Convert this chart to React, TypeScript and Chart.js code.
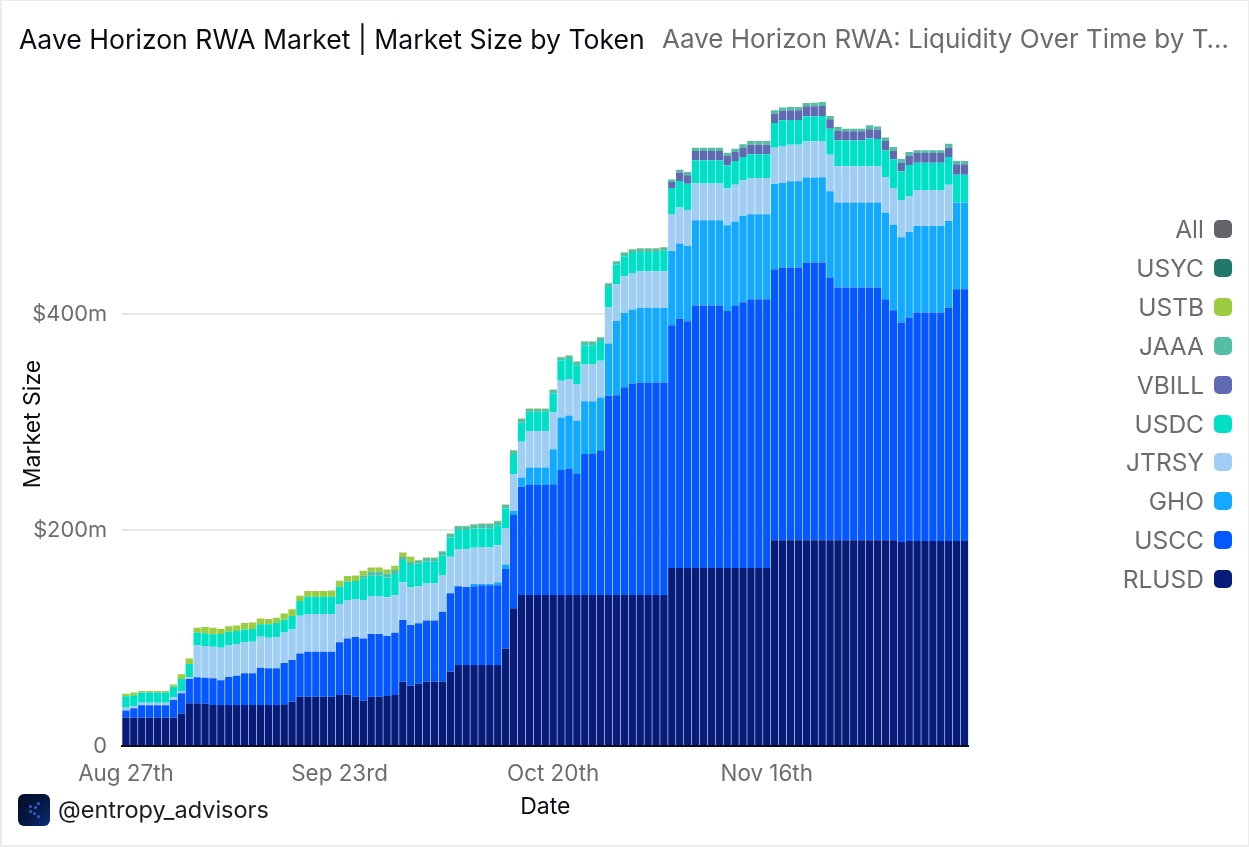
import React, { useEffect, useRef } from "react";
import { Chart, registerables } from "chart.js";

Chart.register(...registerables);

const tickLabels = ["Aug 27th", "Sep 23rd", "Oct 20th", "Nov 16th"];
const tickEvery = 27;
const barCount = 107;
const categories = Array.from({ length: barCount }, (_, i) => `day ${i}`);

const rlusd = [
  26.2,26.2,26.2,26.2,26.2,26.2,26.2,30,39.5,39.5,
  39.2,38,38,38,38,38,38,38,38,38,
  38.6,41,45.7,45.7,45.7,45.7,45.7,47.2,47.8,45.7,
  42,45.7,45.7,46.3,47.2,59.5,55.9,57.7,59.5,59.5,
  59.5,68.8,75,75,75,75,75,75,90.4,127.5,
  139.8,139.8,139.8,139.8,139.8,139.8,139.8,139.8,139.8,139.8,
  139.8,139.8,139.8,139.8,139.8,139.8,139.8,139.8,139.8,164.8,
  164.8,164.8,164.8,164.8,164.8,164.8,164.8,164.8,164.8,164.8,
  164.8,164.8,190.7,190.7,190.7,190.7,190.7,190.7,190.7,190.7,
  190.7,190.7,190.7,190.7,190.7,190.7,190.7,190.7,189,190,
  190,190,190,190,190,190,190,
];
const uscc = [
  6.8,8.8,11.5,11.5,11.5,11.5,16.4,18.8,22.5,24.1,
  24.1,24.7,23,26,27,29.3,29.3,34.5,34,34,
  38.4,38.6,40.1,41.6,41.6,41.6,41.6,48.8,51.9,55.3,
  57.7,58,58,55.6,57.7,57.2,56.1,55.9,56.8,56.8,
  64.9,72.6,73.1,72.2,72.9,74,74,74,73.5,86.4,
  100.3,101.9,101.9,101.9,102.8,115.8,117.3,112.1,130.6,130.6,
  134.2,184.6,185.2,192.6,196,196.9,196.9,196.9,196.9,225,
  231.2,228.7,243.2,243.2,243.2,243.2,238.2,242.9,246.2,249.1,
  249.1,249.1,251,252.5,252.5,252.5,257.2,257.2,257.2,243.3,
  234,234,234,234,234,234,223.2,213,203.3,206.9,
  211.6,211.6,211.6,211.6,216.2,233.1,233.1,
];
const gho = [
  0,0,0,0,0,0,0,0,0,0,
  0,0,0,0,0,0,0,0,0,0,
  0,0,0,0,0,0,0,0,0,0,
  0,0,0,0,0,0,0,0,0,0,
  0,0,0,0,2.1,1,1,2.6,4.3,4,
  8.7,16.3,16.3,16.3,32.4,48.7,49.1,49.3,49,49,
  48.9,48.5,68.8,68.8,68.5,69.2,69.2,69.2,69.2,68.8,
  69.5,69.8,79,79,79,79,79.4,78.3,80,78.7,
  78.7,78.7,79,78.7,79.9,79.9,78.7,78.7,79,79.9,
  78.7,78.7,78.7,78.7,78.7,78.7,80.2,79.3,79,79.3,
  80.2,80.2,80.2,80.2,80.2,80.3,80.3,
];
const jtrsy = [
  2.5,2,2.3,2.3,2.3,2.3,2.4,2.2,2,29.4,
  29.4,29.3,30,29.5,29.4,28.7,29.3,28.7,28.3,28.8,
  28.2,28.4,34.9,34.9,34.9,34.9,34.9,35.5,35.5,35.1,
  35.5,35.2,35.2,35.8,34.6,34.9,34.9,34.5,34.3,34.3,
  33.9,33.9,34.3,35,33.6,33.9,33.9,34.4,33.8,34,
  33,33.7,33.7,33.7,34,34,33.9,33.7,34,34,
  33.9,33.3,34,34,33.9,33.9,33.9,33.9,33.9,33.7,
  33.3,33.3,34,34,34,34,34,34,33,33.6,
  33.6,33.6,33.6,33.9,33.9,33.9,33.6,33.6,33.6,33.9,
  33.6,33.6,33.6,33.6,33.6,33.6,33,33.9,34.5,33.3,
  33.3,33.3,33.3,33.3,33.6,0,0,
];
const usdc = [
  10.5,10,9.5,9.5,9.5,9.5,10,11,12,12,
  11.8,11.5,12.7,12.5,12.1,12,11.7,11.5,12.4,13.2,
  11.8,12.4,13.6,16.1,16.1,16.1,16.1,16,16.9,16.7,
  20.1,18.8,18.8,18.3,19.8,20.6,20.7,21,20.1,20.1,
  17.9,17.9,17.6,17.8,17.9,17.6,17.6,18.6,18,18.5,
  17.9,17.9,17.9,17.9,17.6,19.1,18.5,17.9,17.9,17.9,
  18.5,19.1,18.2,18.5,18.6,17.9,17.9,17.9,19,24.6,
  24.6,24.3,21.6,21.6,21.6,21.6,21.5,22,21.6,21.9,
  21.9,21.9,22.8,23.8,23,23,23.1,23.1,23.1,24.1,
  24.1,24,24,24,25.7,25.4,24.8,26.6,26.6,28.7,
  25.3,25.3,25.3,25.3,25.6,25.9,25.9,
];
const vbill = [
  0,0,0,0,0,0,0,0,0,0,
  0,0,0,0,0,0,0,0,0,0,
  0,0,0,0,0,0,0,0,0,0,
  0,0,0,0,0,0,0,0,0,0,
  0,0,0,0,0,0,0,0,0,0,
  0,0,0,0,0,0,0,0,0,0,
  0,0,0,0,0,0,0,0,0,5.6,
  7.8,7.8,8.6,8.6,8.6,8.6,8.7,8.3,8.7,9,
  9,9,8.7,8.7,8.9,8.9,9.3,9.3,9.4,8.7,
  8.6,8.5,8.5,8.5,8.6,8.6,8.6,7.7,7.7,8.4,
  9,9,9,9,8.7,9.6,9.6,
];
const jaaa = [
  0,0,0,0,0,0,0,0,0,0,
  0,0,0,0,0,0,0,0,0,0,
  0,0,0,0,0,0,0,0,0,0,
  2.5,3.7,3.7,3.7,3.7,3,3.2,2.6,3.5,3.5,
  3.9,3.2,3.5,3.5,3.6,4.2,4.2,3.5,3.3,3.2,
  3.2,2.6,2.6,2.6,3.1,2.6,2.9,3.2,3.2,3.2,
  3.2,3.2,2.9,3.2,3.2,3.2,3.2,3.2,3,2.2,
  2.7,3.1,3.1,3.1,3.1,3.1,3.1,3.1,3.1,3.4,
  3.4,3.4,3.1,3.1,3.1,3.1,3,3.4,3.6,3,
  3.7,2.4,2.4,2.4,3.7,3,3.1,3.7,3.7,3.7,
  2.5,2.5,2.5,2.5,3.7,3,3,
];
const ustb = [
  2.5,2.5,1.5,1.5,1.5,1.5,2,4.4,5,4.5,
  5.7,6,4.6,5,5.2,6,6.2,5.5,4.9,4.8,
  5.7,6.4,4.9,5.2,5.2,5.2,5.8,5.5,5.3,5.2,
  4.5,4,4,3.9,4,4.1,4.5,0.5,0.5,0.5,
  0.5,0.5,0.5,0.5,0.5,0.5,0.5,0.5,0.5,0.5,
  0.5,0.5,0.5,0.5,0.5,0.5,0.5,0.5,0.5,0.5,
  0.5,0.5,0.5,0.5,0.5,0.5,0.5,0.5,0.5,0,
  0,0,0,0,0,0,0,0,0,0,
  0,0,0,0,0,0,0,0,0,0,
  0,0,0,0,0,0,0,0,0,0,
  0,0,0,0,0,0,0,
];
const usyc: number[] = [];

const COLORS = {
  All: "#636369",
  USYC: "#20796a",
  USTB: "#9ccc3f",
  JAAA: "#53bda5",
  VBILL: "#5f6ab0",
  USDC: "#00e0c7",
  JTRSY: "#a0cdf3",
  GHO: "#12a9ff",
  USCC: "#0558ff",
  RLUSD: "#061c78",
};
const legendOrder = ["All", "USYC", "USTB", "JAAA", "VBILL", "USDC", "JTRSY", "GHO", "USCC", "RLUSD"];
const series: [string, number[]][] = [
  ["RLUSD", rlusd],
  ["USCC", uscc],
  ["GHO", gho],
  ["JTRSY", jtrsy],
  ["USDC", usdc],
  ["VBILL", vbill],
  ["JAAA", jaaa],
  ["USTB", ustb],
  ["USYC", usyc],
];

const FONT = "Inter, 'Noto Sans', sans-serif";
const GREY = "#6b6b70";

export default function App() {
  const ref = useRef<HTMLCanvasElement | null>(null);
  useEffect(() => {
    const chart = new Chart(ref.current!, {
      type: "bar",
      data: {
        labels: categories,
        datasets: series.map(([label, data]) => ({
          label,
          data,
          backgroundColor: (COLORS as any)[label],
          barPercentage: 0.93,
          categoryPercentage: 1,
          borderWidth: 0,
        })),
      },
      options: {
        animation: false,
        responsive: false,
        devicePixelRatio: 1,
        layout: { padding: { top: 102, right: 280.5, left: 0, bottom: 0 } },
        plugins: { legend: { display: false }, tooltip: { enabled: false } },
        scales: {
          x: {
            stacked: true,
            afterFit: (s: any) => { s.height = 101; },
            grid: { display: false },
            border: { display: true, color: "#0b0b20", width: 2 },
            ticks: {
              autoSkip: false,
              maxRotation: 0,
              padding: 7,
              color: GREY,
              font: { family: FONT, size: 22.4 },
              callback: (_v: any, i: number) => (i % tickEvery === 0 ? tickLabels[i / tickEvery] ?? "" : ""),
            },
            title: {
              display: true,
              text: "Date",
              color: "#0b0b14",
              font: { family: FONT, size: 23 },
              padding: { top: 0, bottom: 26 },
            },
          },
          y: {
            stacked: true,
            min: 0,
            max: 596.6,
            afterFit: (s: any) => { s.width = 122; },
            afterBuildTicks: (s: any) => { s.ticks = [{ value: 0 }, { value: 200 }, { value: 400 }]; },
            grid: { color: "#e6e6e6", lineWidth: 2, drawTicks: false },
            border: { display: false },
            ticks: {
              padding: 15,
              color: GREY,
              font: { family: FONT, size: 21.8 },
              callback: (v: any) => (v === 0 ? "0" : `$${v}m`),
            },
            title: {
              display: true,
              text: "Market Size",
              color: "#0b0b14",
              font: { family: FONT, size: 23 },
              padding: { top: 19, bottom: 0 },
            },
          },
        },
      },
    } as any);
    return () => chart.destroy();
  }, []);

  return (
    <div style={{ position: "fixed", left: 0, top: 0, width: 1249, height: 847, background: "#fff", overflow: "hidden", fontFamily: FONT }}>
      <canvas ref={ref} width={1249} height={847} style={{ position: "absolute", left: 0, top: 0, width: 1249, height: 847 }} />
      <div style={{ position: "absolute", left: 19, top: 23, fontSize: 26.6, lineHeight: "32px", color: "#0b0b14", whiteSpace: "nowrap" }}>
        Aave Horizon RWA Market | Market Size by Token
      </div>
      <div style={{ position: "absolute", left: 662, top: 23, width: 568, fontSize: 26, lineHeight: "32px", color: GREY, whiteSpace: "nowrap", overflow: "hidden", textOverflow: "ellipsis" }}>
        Aave Horizon RWA: Liquidity Over Time by Token
      </div>
      {legendOrder.map((name, i) => (
        <React.Fragment key={name}>
          <div style={{ position: "absolute", right: 45, top: 229 + i * 38.9 - 15, height: 30, lineHeight: "30px", fontSize: 24.5, color: GREY, whiteSpace: "nowrap" }}>{name}</div>
          <div style={{ position: "absolute", left: 1214, top: 229 + i * 38.9 - 9, width: 18, height: 18, borderRadius: 5, background: (COLORS as any)[name] }} />
        </React.Fragment>
      ))}
      <div style={{ position: "absolute", left: 18, top: 794, width: 32, height: 32, borderRadius: 6, background: "linear-gradient(135deg,#030c26 0%,#061a4a 60%,#0b2f80 100%)" }}>
        {[[20, 9], [12, 12], [17, 13], [12, 17], [16, 19], [20, 22]].map(([x, y], i) => (
          <span key={i} style={{ position: "absolute", left: x - 1, top: y - 1, width: 2.5, height: 2.5, borderRadius: 2, background: "#2a63d8" }} />
        ))}
      </div>
      <div style={{ position: "absolute", left: 58, top: 794, fontSize: 23.5, lineHeight: "32px", color: "#1a1a20", whiteSpace: "nowrap" }}>@entropy_advisors</div>
      <div style={{ position: "absolute", inset: 0, border: "2px solid #ececec", borderTopWidth: 1, borderRightWidth: 1, boxSizing: "border-box", pointerEvents: "none" }} />
    </div>
  );
}
